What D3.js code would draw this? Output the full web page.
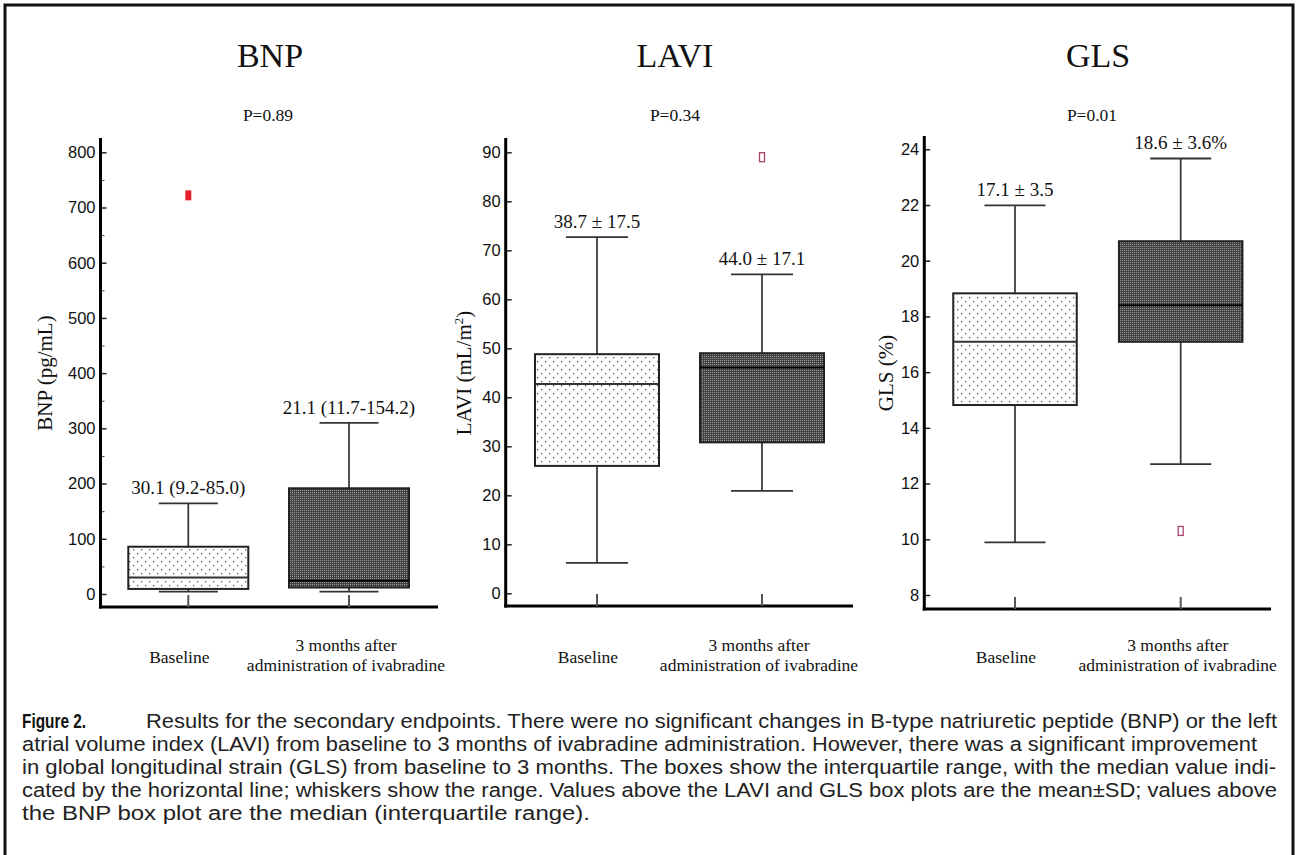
<!DOCTYPE html>
<html><head><meta charset="utf-8">
<script src="https://cdn.jsdelivr.net/npm/d3@7"></script>
<style>body{margin:0;background:#fff} svg{display:block}</style>
</head><body>
<svg id="c" width="1297" height="855"></svg>
<script>
// ---------------- data ----------------
const panelTitles = ["BNP", "LAVI", "GLS"];
const pLabels = ["P=0.89", "P=0.34", "P=0.01"];
const categories = ["Baseline", "3 months after administration of ivabradine"];
const categoryLines = [["Baseline"], ["3 months after", "administration of ivabradine"]];
const yLabelMain = ["BNP (pg/mL)", "LAVI (mL/m", "GLS (%)"];
const yLabelSup = ["", "2", ""];
const yLabelTail = ["", ")", ""];
const yDomains = [[0, 800], [0, 90], [8, 24]];
const bnpTicks = [0, 100, 200, 300, 400, 500, 600, 700, 800];
const bnpMinorTicks = [50, 150, 250, 350, 450, 550, 650, 750];
const laviTicks = [0, 10, 20, 30, 40, 50, 60, 70, 80, 90];
const glsTicks = [8, 10, 12, 14, 16, 18, 20, 22, 24];
// [whisker low, Q1, median, Q3, whisker high]
const bnpBaseline = [4.2, 9.2, 30.1, 85.6, 164];
const bnpAfter = [4.2, 11.7, 24, 191.5, 310];
const laviBaseline = [6.2, 26.0, 42.7, 48.8, 72.7];
const laviAfter = [20.9, 30.8, 46.1, 49.0, 65.1];
const glsBaseline = [9.89, 14.82, 17.09, 18.83, 21.99];
const glsAfter = [12.70, 17.09, 18.40, 20.70, 23.67];
// outliers: [category index, value]
const bnpOutliers = [[0, 722]];
const laviOutliers = [[1, 89.0]];
const glsOutliers = [[1, 10.3]];
const bnpNotes = ["30.1 (9.2-85.0)", "21.1 (11.7-154.2)"];
const laviNotes = ["38.7 ± 17.5", "44.0 ± 17.1"];
const glsNotes = ["17.1 ± 3.5", "18.6 ± 3.6%"];
const captionLabel = "Figure 2.";
const captionLines = [
  "Results for the secondary endpoints. There were no significant changes in B-type natriuretic peptide (BNP) or the left",
  "atrial volume index (LAVI) from baseline to 3 months of ivabradine administration. However, there was a significant improvement",
  "in global longitudinal strain (GLS) from baseline to 3 months. The boxes show the interquartile range, with the median value indi-",
  "cated by the horizontal line; whiskers show the range. Values above the LAVI and GLS box plots are the mean\u00B1SD; values above",
  "the BNP box plot are the median (interquartile range)."
];

const panelData = [
  {ticks: bnpTicks, minor: bnpMinorTicks, boxes: [bnpBaseline, bnpAfter], outliers: bnpOutliers, notes: bnpNotes},
  {ticks: laviTicks, minor: [], boxes: [laviBaseline, laviAfter], outliers: laviOutliers, notes: laviNotes},
  {ticks: glsTicks, minor: [], boxes: [glsBaseline, glsAfter], outliers: glsOutliers, notes: glsNotes}
];

// ---------------- layout ----------------
const layout = [
  {x0: 100.5, top: 138, base: 607, xEnd: 438, r0: 594, r1: 152.3, c0: 188.3, c1: 349, bw: 120, cw: 59, titleX: 270, pX: 268, ylabX: 52, filledOutlier: true},
  {x0: 505.7, top: 138, base: 606, xEnd: 853, r0: 593.3, r1: 152.3, c0: 597, c1: 762, bw: 124, cw: 62, titleX: 675, pX: 675, ylabX: 471, filledOutlier: false},
  {x0: 924.3, top: 136, base: 609, xEnd: 1271, r0: 595, r1: 149.3, c0: 1015, c1: 1180.7, bw: 123.5, cw: 61, titleX: 1098, pX: 1092, ylabX: 893, filledOutlier: false}
];
const serif = "'Liberation Serif','Times New Roman',Times,serif";
const sans = "'Liberation Sans',Arial,Helvetica,sans-serif";
const narrow = "'Liberation Sans Narrow','Arial Narrow','Liberation Sans',Arial,sans-serif";

const svg = d3.select("#c");
const defs = svg.append("defs");
// light dotted pattern
const pl = defs.append("pattern").attr("id", "dots").attr("patternUnits", "userSpaceOnUse")
  .attr("width", 8).attr("height", 8);
pl.append("rect").attr("width", 8).attr("height", 8).attr("fill", "#fff");
pl.append("rect").attr("x", 1).attr("y", 1).attr("width", 1.3).attr("height", 1.3).attr("fill", "#555");
pl.append("rect").attr("x", 5).attr("y", 5).attr("width", 1.3).attr("height", 1.3).attr("fill", "#555");
// dark checker pattern
const pd = defs.append("pattern").attr("id", "dark").attr("patternUnits", "userSpaceOnUse")
  .attr("width", 2).attr("height", 2);
pd.append("rect").attr("width", 2).attr("height", 2).attr("fill", "#434343");
pd.append("rect").attr("width", 1).attr("height", 1).attr("fill", "#999");

// outer frame
svg.append("rect").attr("x", 5).attr("y", 5).attr("width", 1288).attr("height", 880)
  .attr("fill", "none").attr("stroke", "#111").attr("stroke-width", 3);

panelTitles.forEach((title, i) => {
  const L = layout[i], D = panelData[i];
  const g = svg.append("g");
  const y = d3.scaleLinear().domain(yDomains[i]).range([L.r0, L.r1]);
  const x = d3.scalePoint().domain(categories).range([L.c0, L.c1]);

  // title and p-value
  g.append("text").attr("x", L.titleX).attr("y", 67).attr("text-anchor", "middle")
    .attr("font-family", serif).attr("font-size", 34).attr("fill", "#111").text(title);
  g.append("text").attr("x", L.pX).attr("y", 121).attr("text-anchor", "middle")
    .attr("font-family", serif).attr("font-size", 17.5).attr("fill", "#111").text(pLabels[i]);

  // y axis ticks
  const ax = g.append("g").attr("transform", `translate(${L.x0},0)`)
    .call(d3.axisLeft(y).tickValues(D.ticks).tickSizeInner(-6).tickSizeOuter(0).tickPadding(5));
  ax.select(".domain").remove();
  ax.selectAll(".tick line").attr("stroke", "#222").attr("stroke-width", 1.5);
  ax.selectAll(".tick text").attr("font-family", sans).attr("font-size", 16.5).attr("fill", "#111");
  if (D.minor.length) {
    const mx = g.append("g").attr("transform", `translate(${L.x0},0)`)
      .call(d3.axisLeft(y).tickValues(D.minor).tickSizeInner(-4).tickSizeOuter(0).tickFormat(""));
    mx.select(".domain").remove();
    mx.selectAll(".tick line").attr("stroke", "#444").attr("stroke-width", 1);
  }
  // axis lines
  g.append("line").attr("x1", L.x0).attr("x2", L.x0).attr("y1", L.top).attr("y2", L.base + 1.5)
    .attr("stroke", "#000").attr("stroke-width", 3);
  g.append("line").attr("x1", L.x0 - 1.5).attr("x2", L.xEnd).attr("y1", L.base).attr("y2", L.base)
    .attr("stroke", "#000").attr("stroke-width", 3);
  // category ticks on x axis
  g.selectAll(".ctick").data(categories).enter().append("line")
    .attr("x1", d => x(d)).attr("x2", d => x(d)).attr("y1", L.base).attr("y2", L.base - 12)
    .attr("stroke", "#555").attr("stroke-width", 2);

  // y label
  const yl = g.append("text").attr("transform", `translate(${L.ylabX},373) rotate(-90)`)
    .attr("text-anchor", "middle").attr("font-family", serif).attr("font-size", 21).attr("fill", "#111");
  yl.append("tspan").text(yLabelMain[i]);
  if (yLabelSup[i]) {
    yl.append("tspan").attr("font-size", 13).attr("dy", -8).text(yLabelSup[i]);
    yl.append("tspan").attr("dy", 8).text(yLabelTail[i]);
  }

  // boxes
  D.boxes.forEach((b, k) => {
    const cx = x(categories[k]);
    g.append("line").attr("x1", cx).attr("x2", cx).attr("y1", y(b[0])).attr("y2", y(b[4]))
      .attr("stroke", "#333").attr("stroke-width", 1.7);
    [b[0], b[4]].forEach(v => {
      g.append("line").attr("x1", cx - L.cw / 2).attr("x2", cx + L.cw / 2).attr("y1", y(v)).attr("y2", y(v))
        .attr("stroke", "#333").attr("stroke-width", 1.8);
    });
    g.append("rect").attr("x", cx - L.bw / 2).attr("width", L.bw)
      .attr("y", y(b[3])).attr("height", y(b[1]) - y(b[3]))
      .attr("fill", k === 0 ? "url(#dots)" : "url(#dark)")
      .attr("stroke", "#222").attr("stroke-width", 2);
    g.append("line").attr("x1", cx - L.bw / 2).attr("x2", cx + L.bw / 2).attr("y1", y(b[2])).attr("y2", y(b[2]))
      .attr("stroke", k === 0 ? "#333" : "#000").attr("stroke-width", 2);
    g.append("text").attr("x", cx).attr("y", y(b[4]) - 9).attr("text-anchor", "middle")
      .attr("font-family", serif).attr("font-size", 19).attr("fill", "#111").text(D.notes[k]);
  });

  // outliers
  D.outliers.forEach(o => {
    const cx = x(categories[o[0]]);
    if (L.filledOutlier) {
      g.append("rect").attr("x", cx - 3).attr("y", y(o[1]) - 5).attr("width", 6).attr("height", 10)
        .attr("fill", "#e62129");
    } else {
      g.append("rect").attr("x", cx - 2.5).attr("y", y(o[1]) - 4.5).attr("width", 5).attr("height", 9)
        .attr("fill", "none").attr("stroke", "#a8436e").attr("stroke-width", 1.3);
    }
  });

  // category labels
  categoryLines.forEach((lines, k) => {
    const cx = x(categories[k]);
    if (lines.length === 1) {
      g.append("text").attr("x", cx - 9).attr("y", 663).attr("text-anchor", "middle")
        .attr("font-family", serif).attr("font-size", 17.5).attr("fill", "#111").text(lines[0]);
    } else {
      lines.forEach((t, j) => {
        g.append("text").attr("x", cx - 3).attr("y", 651 + j * 19.5).attr("text-anchor", "middle")
          .attr("font-family", serif).attr("font-size", 17.5).attr("fill", "#111").text(t);
      });
    }
  });
});

// caption
const capBase = [728, 751, 774, 797, 820];
const capStart = [146, 22, 22, 22, 22];
const capEnd = [1277, 1257, 1276, 1277, 590];
svg.append("text").attr("x", 22).attr("y", capBase[0]).attr("font-family", narrow)
  .attr("font-weight", "bold").attr("font-size", 20).attr("fill", "#111")
  .attr("textLength", 64).attr("lengthAdjust", "spacingAndGlyphs").text(captionLabel);
captionLines.forEach((t, i) => {
  svg.append("text").attr("x", capStart[i]).attr("y", capBase[i]).attr("font-family", narrow)
    .attr("font-size", 20).attr("fill", "#222")
    .attr("textLength", capEnd[i] - capStart[i]).attr("lengthAdjust", "spacingAndGlyphs").text(t);
});
</script>
</body></html>
